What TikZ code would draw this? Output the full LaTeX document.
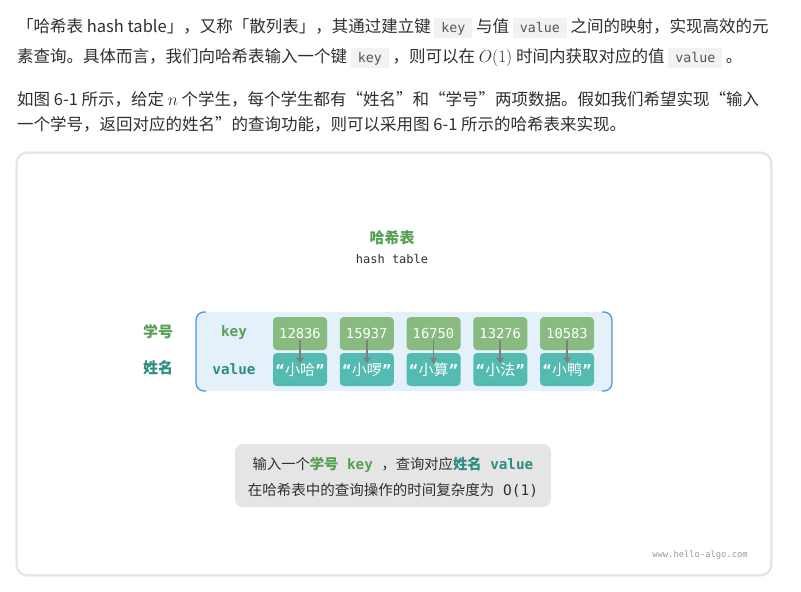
\documentclass[tikz,border=0pt]{standalone}
\usepackage[no-math]{fontspec}
\setmainfont{Noto Sans CJK SC}
\newfontfamily\monofont{DejaVu Sans Mono}
\newfontfamily\quotefont{DejaVu Sans}
\usetikzlibrary{arrows.meta}
\definecolor{textc}{HTML}{2F2F2F}
\definecolor{codebg}{HTML}{F2F2F2}
\definecolor{codetext}{HTML}{555555}
\definecolor{keyfill}{HTML}{87BB80}
\definecolor{valfill}{HTML}{53BBB1}
\definecolor{kgreen}{HTML}{56A052}
\definecolor{vteal}{HTML}{2E8C83}
\definecolor{tblbg}{HTML}{E4F0FA}
\definecolor{tblline}{HTML}{4A98DF}
\definecolor{infobg}{HTML}{E5E5E5}
\definecolor{arrowc}{HTML}{808080}
\newcommand\fsz[1]{\fontsize{#1}{#1}\selectfont}
\newcommand\icode[1]{{\setlength\fboxsep{0pt}\colorbox{codebg}{\hspace{7pt}\vrule width 0pt height 14pt depth 6pt{\monofont\fsz{13.3}\textcolor{codetext}{#1}}\hspace{7pt}}}}
\newcommand\qv[1]{{\quotefont\bfseries “}#1{\quotefont\bfseries ”}}
\begin{document}
\begin{tikzpicture}[x=1pt,y=-1pt,
  para/.style={anchor=base west,inner sep=0pt,font=\fsz{16.5},text=textc},
  keybox/.style={fill=keyfill,rounded corners=4pt,minimum width=54pt,minimum height=33pt,inner sep=0pt,text=white,font=\monofont\fsz{13.8}},
  valbox/.style={fill=valfill,rounded corners=4pt,minimum width=54pt,minimum height=33pt,inner sep=0pt,text=white,font=\fsz{15}},
  lbl/.style={inner sep=0pt,font=\bfseries\fsz{15}},
  maplink/.style={draw=arrowc,line width=1.8pt,-{Triangle[length=6pt,width=7pt]},shorten <=6pt,shorten >=6pt}
]
\useasboundingbox (0,0) rectangle (801,592);
\fill[white] (0,0) rectangle (801,592);

% paragraphs
\node[para] (p1) at (17,32) {「哈希表 hash table」，又称「散列表」，其通过建立键 \icode{key} 与值 \icode{value} 之间的映射，实现高效的元};
\node[para] (p2) at (17,62) {素查询。具体而言，我们向哈希表输入一个键 \icode{key} ，则可以在 {\fsz{19}$O(1)$} 时间内获取对应的值 \icode{value} 。};
\node[para] (p3) at (17,105) {如图 6-1 所示，给定 {\fsz{19}$n$} 个学生，每个学生都有“姓名”和“学号”两项数据。假如我们希望实现“输入};
\node[para] (p4) at (17,130) {一个学号，返回对应的姓名”的查询功能，则可以采用图 6-1 所示的哈希表来实现。};

% card
\draw[black!5,line width=4pt,rounded corners=11pt] (17,153) rectangle (771,575);
\draw[black!13,line width=1.3pt,fill=white,rounded corners=10pt] (17,153) rectangle (771,575);

% title
\node[lbl,text=kgreen] (title) at (392,238) {哈希表};
\node[inner sep=0pt,font=\monofont\fsz{12},text=textc] (sub) at (392,259) {hash table};

% table background
\fill[tblbg,rounded corners=8pt] (196,312) rectangle (612,391);
\draw[tblline,line width=1.3pt,rounded corners=8pt] (206,312) -- (196,312) -- (196,391) -- (206,391);
\draw[tblline,line width=1.3pt,rounded corners=8pt] (602,312) -- (612,312) -- (612,391) -- (602,391);

% labels
\node[lbl,text=kgreen] (lno) at (158,332) {学号};
\node[lbl,text=vteal] (lname) at (158,368) {姓名};
\node[inner sep=0pt,font=\monofont\bfseries\fsz{14.3},text=kgreen] (lkey) at (234,333) {key};
\node[inner sep=0pt,font=\monofont\bfseries\fsz{14.3},text=vteal] (lval) at (234,369) {value};

% key/value boxes
\foreach \i/\k/\v [count=\n from 0] in {1/12836/小哈,2/15937/小啰,3/16750/小算,4/13276/小法,5/10583/小鸭}{
  \node[keybox] (k\i) at (300+66.75*\n,333.5) {\k};
  \node[valbox] (v\i) at (300+66.75*\n,369.5) {\qv{\v}};
}
\foreach \i in {1,...,5}{
  \draw[maplink] (k\i.center) -- (v\i.center);
}

% info box
\node[fill=infobg,rounded corners=8pt,minimum width=316pt,minimum height=63pt,inner sep=0pt] (info) at (393,475.5) {};
\node[inner sep=0pt,font=\fsz{14.3},text=textc,anchor=base] (i1) at (393,469) {输入一个\textcolor{kgreen}{\bfseries 学号{\monofont\ key\ }}，查询对应\textcolor{vteal}{\bfseries 姓名{\monofont\ value}}};
\node[inner sep=0pt,font=\fsz{14.5},text=textc,anchor=base] (i2) at (393,495) {在哈希表中的查询操作的时间复杂度为{\monofont\ O(1)}};

% watermark
\node[inner sep=0pt,font=\monofont\fsz{8.8},text=black!40] (wm) at (700,555) {www.hello-algo.com};
\end{tikzpicture}
\end{document}
